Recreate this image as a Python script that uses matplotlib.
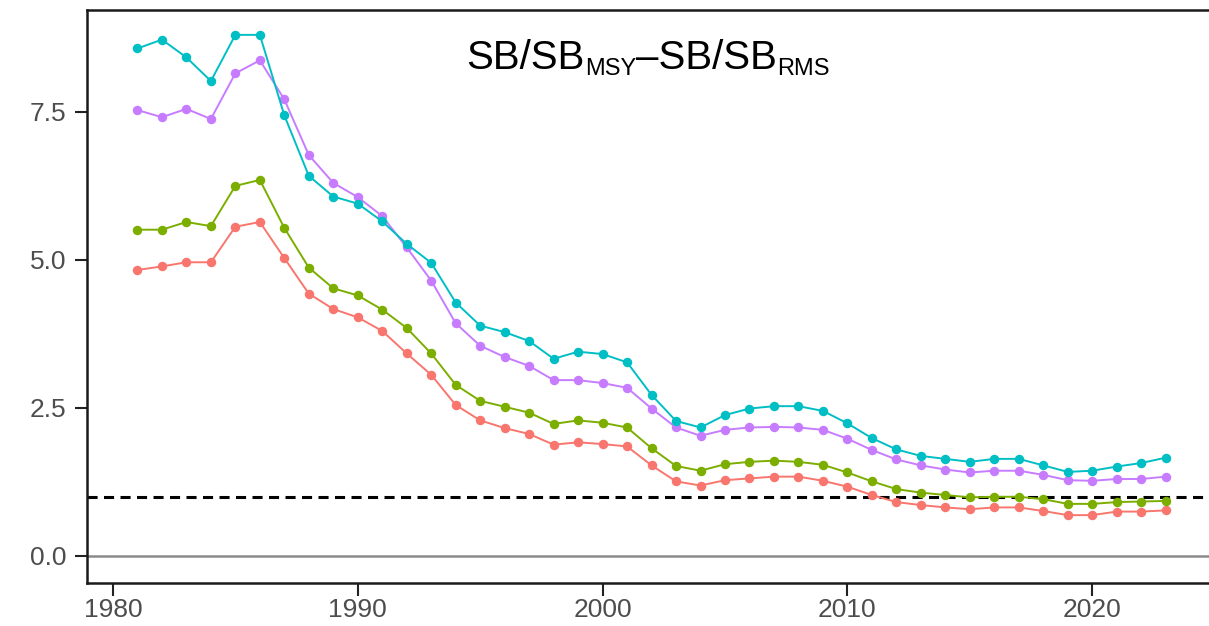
import matplotlib
matplotlib.use("Agg")
import matplotlib.pyplot as plt

years = list(range(1981, 2024))

cyan_vals = [8.57, 8.72, 8.42, 8.02, 8.80, 8.80, 7.44, 6.42, 6.07, 5.95, 5.65, 5.27, 4.95,
             4.28, 3.89, 3.78, 3.63, 3.33, 3.45, 3.41, 3.27, 2.72, 2.28, 2.17, 2.38, 2.49,
             2.53, 2.53, 2.45, 2.24, 1.99, 1.80, 1.69, 1.64, 1.59, 1.64, 1.64, 1.53, 1.42,
             1.44, 1.51, 1.57, 1.66]
purple_vals = [7.53, 7.41, 7.55, 7.38, 8.15, 8.37, 7.71, 6.77, 6.30, 6.06, 5.74, 5.21, 4.65,
               3.93, 3.55, 3.36, 3.21, 2.97, 2.97, 2.92, 2.84, 2.49, 2.17, 2.03, 2.13, 2.17,
               2.18, 2.17, 2.13, 1.98, 1.79, 1.63, 1.53, 1.46, 1.41, 1.44, 1.44, 1.37, 1.28,
               1.27, 1.30, 1.30, 1.34]
green_vals = [5.51, 5.51, 5.64, 5.57, 6.25, 6.35, 5.54, 4.87, 4.52, 4.40, 4.16, 3.85, 3.42,
              2.89, 2.62, 2.52, 2.42, 2.23, 2.29, 2.25, 2.17, 1.82, 1.52, 1.44, 1.55, 1.59,
              1.61, 1.59, 1.54, 1.41, 1.26, 1.13, 1.07, 1.03, 0.99, 1.00, 1.00, 0.96, 0.88,
              0.88, 0.91, 0.92, 0.93]
red_vals = [4.83, 4.89, 4.96, 4.96, 5.56, 5.64, 5.03, 4.43, 4.17, 4.03, 3.80, 3.42, 3.06,
            2.55, 2.29, 2.16, 2.06, 1.88, 1.92, 1.89, 1.85, 1.53, 1.26, 1.19, 1.28, 1.31,
            1.34, 1.34, 1.27, 1.17, 1.03, 0.91, 0.86, 0.82, 0.79, 0.82, 0.82, 0.76, 0.69,
            0.69, 0.75, 0.75, 0.77]

series = [
    (red_vals, "#F8766D"),
    (green_vals, "#7CAE00"),
    (purple_vals, "#C77CFF"),
    (cyan_vals, "#00BFC4"),
]

x_ticks = [1980, 1990, 2000, 2010, 2020]
y_ticks = [0.0, 2.5, 5.0, 7.5]
y_ticklabels = ["0.0", "2.5", "5.0", "7.5"]
ref_level = 1.0
# title pieces: (text, is_subscript)
title_parts = [("SB/SB", False), ("MSY", True), ("–SB/SB", False), ("RMS", True)]

plt.rcParams['font.family'] = ['Liberation Sans', 'DejaVu Sans']

W, H = 1209, 626
fig = plt.figure(figsize=(W / 100, H / 100), dpi=100)
left_px, right_px, top_px, bottom_px = 87, 1209, 10, 583
ax = fig.add_axes([left_px / W, 1 - bottom_px / H, (right_px - left_px) / W,
                   (bottom_px - top_px) / H])

ax.axhline(0, color="#8a8a8a", lw=1.8, zorder=1)
ax.axhline(ref_level, color="black", lw=2.2, ls=(0, (3.3, 2.1)), zorder=1)

for vals, col in series:
    ax.plot(years, vals, color=col, lw=1.4, marker="o", ms=5.8, zorder=3)

ax.set_xlim(1978.94, 2024.77)
ax.set_ylim(-0.456, 9.22)
ax.set_xticks(x_ticks)
ax.set_yticks(y_ticks)
ax.set_yticklabels(y_ticklabels)
ax.tick_params(axis="both", labelsize=19, labelcolor="#4d4d4d", color="#222222",
               length=9, width=1.5)
ax.tick_params(axis="x", pad=2)
ax.tick_params(axis="y", pad=6)
for s in ["left", "bottom", "top"]:
    ax.spines[s].set_linewidth(1.8)
    ax.spines[s].set_color("#1a1a1a")
ax.spines["right"].set_visible(False)

# Title with manual subscripts
renderer = fig.canvas.get_renderer()
main_fs, sub_fs = 29, 17
base_y = 1 - 69 / H
sub_y = 1 - 75 / H
texts = []
x = 0.0
for txt, is_sub in title_parts:
    t = fig.text(x, sub_y if is_sub else base_y, txt, fontsize=sub_fs if is_sub else main_fs,
                 ha="left", va="baseline", color="black")
    texts.append(t)
    bb = t.get_window_extent(renderer)
    x += bb.width / W
total = x
start = (648 / W) - total / 2
for t in texts:
    px, py = t.get_position()
    t.set_position((px + start, py))

fig.savefig("out.png", dpi=100)
